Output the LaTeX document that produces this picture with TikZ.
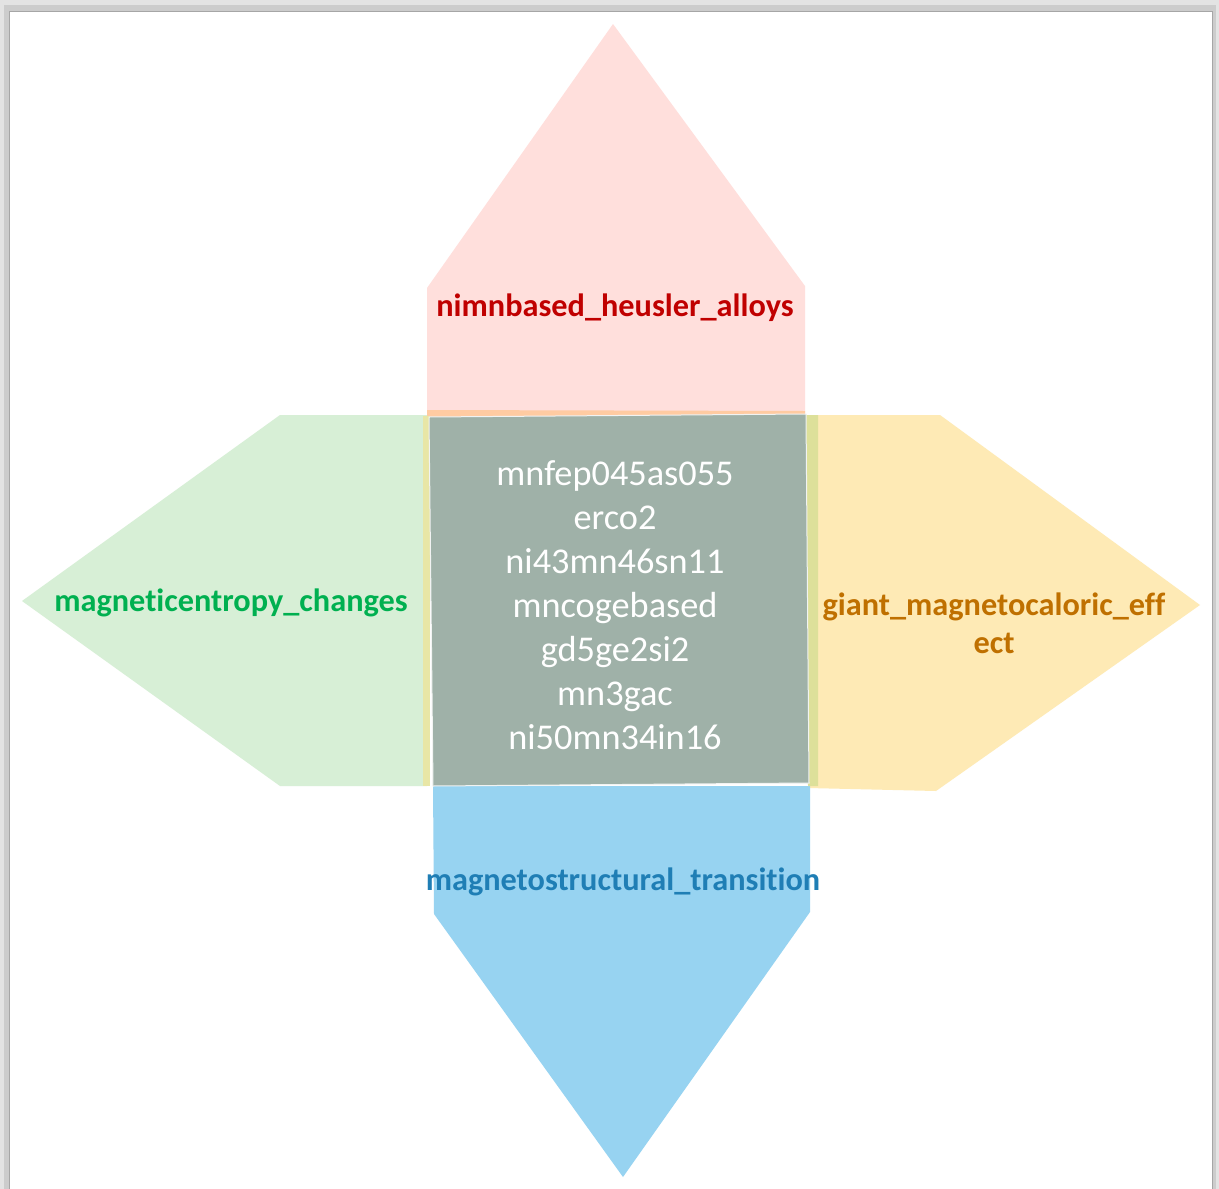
\documentclass[tikz,border=0pt]{standalone}
\usepackage{fontspec}
\setmainfont[Ligatures=NoCommon]{Carlito}
\definecolor{pinkfill}{HTML}{FFDFDC}
\definecolor{greenfill}{HTML}{D7EFD6}
\definecolor{yellowfill}{HTML}{FEEAB5}
\definecolor{bluefill}{HTML}{97D3F1}
\definecolor{corefill}{HTML}{9FB1A8}
\definecolor{redtext}{HTML}{C00000}
\definecolor{greentext}{HTML}{00B050}
\definecolor{orangetext}{HTML}{BF7000}
\definecolor{bluetext}{HTML}{1F7EB5}
\definecolor{seamorange}{HTML}{FFCBA2}
\definecolor{seamolive}{HTML}{DDE09A}
\definecolor{seamyellow}{HTML}{E8E6A6}
\tikzset{
  petal/.style={draw=none},
  petallabel/.style={font=\bfseries\fontsize{32.3}{38}\selectfont, align=center, inner sep=0pt},
  corelabel/.style={font=\fontsize{36.3}{44}\selectfont, text=white, align=center, inner sep=0pt}
}
\begin{document}
\begin{tikzpicture}[x=1pt,y=-1pt]
  % page frame with soft shadow
  \useasboundingbox (0,0) rectangle (1219,1189);
  \fill[gray!22] (0,0) rectangle (1219,1189);
  \fill[gray!40] (4,5) rectangle (1216,1189);
  \fill[white] (9,11) rectangle (1212,1189);
  \draw[gray!70, line width=1pt] (9,1189) -- (9,11) -- (1212,11) -- (1212,1189);

  % four arrow-shaped petals
  \fill[pinkfill, petal] (427,415) -- (427,288) -- (613,24) -- (805,286) -- (805,415) -- cycle;
  \fill[greenfill, petal] (427,415) -- (280,415) -- (22,601) -- (280,786) -- (427,786) -- cycle;
  \fill[yellowfill, petal] (808,415) -- (940,415) -- (1200,605) -- (936,791) -- (808,788) -- cycle;
  \fill[bluefill, petal] (433,786) -- (810,786) -- (810,912) -- (623,1177) -- (434,914) -- cycle;

  % overlap seams around the core
  \fill[seamorange] (427,410) -- (805,411) -- (805,416) -- (427,418) -- cycle;
  \fill[seamyellow] (423,416) -- (430,416) -- (430,786) -- (423,786) -- cycle;
  \fill[seamolive] (806,415) -- (818,415) -- (818,786) -- (808,786) -- cycle;

  % central square
  \filldraw[fill=corefill, draw=white!85!corefill, line width=1pt]
    (429,417) -- (806,414) -- (809,783) -- (433,786) -- cycle;

  % labels
  \node[corelabel] (core) at (615,605)
    {mnfep045as055\\erco2\\ni43mn46sn11\\mncogebased\\gd5ge2si2\\mn3gac\\ni50mn34in16};
  \node[petallabel, text=redtext] (top) at (615,308) {nimnbased\_heusler\_alloys};
  \node[petallabel, text=greentext] (left) at (231,603) {magneticentropy\_changes};
  \node[petallabel, text=orangetext] (right) at (994,623) {giant\_magnetocaloric\_eff\\ect};
  \node[petallabel, text=bluetext] (bottom) at (623,882) {magnetostructural\_transition};
\end{tikzpicture}
\end{document}
